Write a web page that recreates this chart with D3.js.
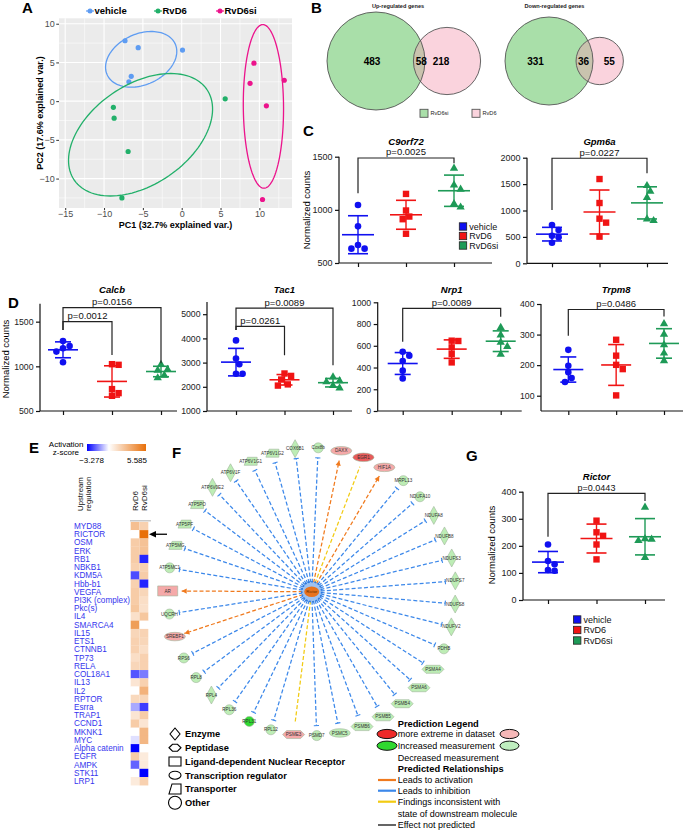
<!DOCTYPE html>
<html><head><meta charset="utf-8">
<script src="https://cdn.jsdelivr.net/npm/d3@7"></script>
<style>body{margin:0;background:#fff}svg{display:block}text{font-family:"Liberation Sans",Arial,Helvetica,sans-serif}</style>
</head><body><svg id="c" width="685" height="830"></svg>
<script>
// ================= DATA =================
const pcaGroups = ["vehicle", "RvD6", "RvD6si"];
const pcaVehicle = [[-7.3, 7.8], [-5.6, 6.9], [0.1, 6.6], [-6.5, 3.2], [-6.8, 2.5]];
const pcaRvD6 = [[5.6, 0.3], [-8.8, -0.8], [-8.7, -2.2], [-6.9, -6.5], [-7.7, -12.5]];
const pcaRvD6si = [[9.3, 4.9], [8.8, 2.3], [13.2, 2.7], [10.9, -0.6], [10.4, -12.7]];
const pcaXTicks = [-15, -10, -5, 0, 5, 10];
const pcaYTicks = [-10, -5, 0, 5, 10];

const vennTitles = ["Up-regulated genes", "Down-regulated genes"];
const vennUp = [483, 58, 218];     // RvD6si only, both, RvD6 only
const vennDown = [331, 36, 55];
const vennLegend = ["RvD6si", "RvD6"];

const groups = ["vehicle", "RvD6", "RvD6si"];
const c9orf72 = [[1045, 845, 670, 635, 635], [1150, 994, 937, 912, 775], [1390, 1234, 1194, 1056, 1025]];
const gpm6a = [[725, 630, 520, 495, 390], [1596, 1142, 845, 770, 505], [1470, 1363, 1243, 839, 807]];
const calcb = [[1284, 1228, 1202, 1165, 1046], [1024, 1017, 745, 700, 670], [1020, 965, 955, 900, 870]];
const tac1 = [[3917, 3167, 2930, 2542, 2542], [2550, 2450, 2300, 2100, 2050], [2400, 2250, 2200, 2050, 1950]];
const nrp1 = [[545, 509, 460, 371, 300], [644, 647, 585, 524, 447], [767, 699, 632, 592, 521]];
const trpm8 = [[250, 198, 177, 158, 145], [283, 231, 201, 187, 101], [335, 301, 266, 239, 214]];
const rictor = [[205, 144, 132, 108, 111], [293, 250, 237, 205, 150], [342, 224, 219, 226, 157]];

const regulators = ["MYD88", "RICTOR", "OSM", "ERK", "RB1", "NBKB1", "KDM5A", "Hbb-b1", "VEGFA", "PI3K (complex)", "Pkc(s)", "IL4", "SMARCA4", "IL15", "ETS1", "CTNNB1", "TP73", "RELA", "COL18A1", "IL13", "IL2", "RPTOR", "Esrra", "TRAP1", "CCND1", "MKNK1", "MYC", "Alpha catenin", "EGFR", "AMPK", "STK11", "LRP1"];
const zRvD6 = [2.5, null, 2.0, 2.0, 2.0, 1.8, -2.3, 1.8, 2.0, 2.0, 2.2, 1.2, 3.8, 1.6, 1.8, 1.8, 1.3, 1.6, -2.2, 1.0, null, 1.5, -1.1, 1.0, 2.0, null, -0.4, -3.278, 2.0, -2.0, null, 0.8];
const zRvD6si = [1.8, 5.585, 2.4, 2.4, -2.8, 1.8, 2.0, -2.8, 1.6, 1.3, 1.2, 2.2, null, 1.7, 1.6, 1.3, 1.8, 1.8, -1.7, 1.8, 3.0, 1.6, -2.5, 2.0, 1.0, 2.8, 2.8, null, 0.8, 0.8, -3.278, 1.8];
const zRange = [-3.278, 5.585];

const netNodes = ["AR", "ATP5MC1", "ATP5MG", "ATP5PF", "ATP5PO", "ATP6V0E2", "ATP6V1F", "ATP6V1G1", "ATP6V1G2", "COX6B1", "Cox8b", "DAXX", "EGR1", "HIF1A", "MRPL13", "NDUFA10", "NDUFA8", "NDUFB8", "NDUFS3", "NDUFS7", "NDUFS8", "NDUFV2", "PDHB", "PSMA4", "PSMA6", "PSMB4", "PSMB5", "PSMB6", "PSMC5", "PSMD7", "PSME3", "RPL12", "RPL31", "RPL36", "RPL4", "RPL8", "RPS6", "SREBF1", "UQCRH"];
const netTypes = ["nuclear", "other", "transporter", "transporter", "transporter", "enzyme", "enzyme", "transporter", "transporter", "enzyme", "other", "tf", "tf", "tf", "other", "other", "enzyme", "enzyme", "enzyme", "enzyme", "enzyme", "enzyme", "other", "peptidase", "peptidase", "peptidase", "peptidase", "peptidase", "tf", "other", "peptidase", "other", "other", "other", "enzyme", "other", "other", "tf", "other"];
const netState = ["up", "down", "down", "down", "down", "down", "down", "down", "down", "down", "down", "up", "upStrong", "up", "down", "down", "down", "down", "down", "down", "down", "down", "down", "down", "down", "down", "down", "down", "down", "down", "up", "down", "downStrong", "down", "down", "down", "down", "up", "down"];
const netRel = ["act", "inh", "inh", "inh", "inh", "inh", "inh", "inh", "inh", "inh", "inh", "act", "inc", "act", "inh", "inh", "inh", "inh", "inh", "inh", "inh", "inh", "inh", "inh", "inh", "inh", "inh", "inh", "inh", "inh", "inc", "inh", "inh", "inh", "inh", "inh", "inh", "act", "inh"];
const netHub = "Rictor";

const shapeLegend = ["Enzyme", "Peptidase", "Ligand-dependent Nuclear Receptor", "Transcription regulator", "Transporter", "Other"];
const shapeLegendTypes = ["enzyme", "peptidase", "nuclear", "tf", "transporter", "other"];
const relLegend = ["Leads to activation", "Leads to inhibition", "Findings inconsistent with", "Effect not predicted"];

// ================= STYLE =================
const FONT = '"Liberation Sans", Arial, Helvetica, sans-serif';
const grpColor = ["#1010F0", "#F01414", "#1E9A57"];
const pcaColor = ["#5E9CF2", "#22B06A", "#EC138C"];
const stateFill = {up: "#F5A9A9", upStrong: "#E85A5A", down: "#BDEDB5", downStrong: "#30DA30"};
const relColor = {act: "#F07A1E", inh: "#3C88EA", inc: "#F2CB12", none: "#111"};

const svg = d3.select("#c");
const defs = svg.append("defs");

function txt(g, x, y, s, o = {}) {
  const t = g.append("text").attr("x", x).attr("y", y).text(s)
    .attr("font-size", o.size || 9).attr("fill", o.fill || "#000")
    .attr("text-anchor", o.anchor || "start");
  if (o.weight) t.attr("font-weight", o.weight);
  if (o.style) t.attr("font-style", o.style);
  if (o.rotate != null) t.attr("transform", `rotate(${o.rotate},${x},${y})`);
  return t;
}
const minus = d => String(d).replace("-", "\u2212");

// panel letters
[["A", 22, 13], ["B", 311, 13], ["C", 303, 136], ["D", 8, 308], ["E", 29, 453], ["F", 172, 458], ["G", 466, 461]]
  .forEach(([l, x, y]) => txt(svg, x, y, l, {size: 15, weight: "bold"}));

// ================= PANEL A =================
(function () {
  const g = svg.append("g");
  const x = d3.scaleLinear().domain([-15.8, 14.2]).range([59, 292]);
  const y = d3.scaleLinear().domain([-13.8, 10.7]).range([208, 18.3]);
  g.append("rect").attr("x", 59).attr("y", y(10.7)).attr("width", 233).attr("height", y(-13.8) - y(10.7)).attr("fill", "#EBEBEB");
  const xMinor = [pcaXTicks[0] - 2.5].concat(pcaXTicks.map(t => t + 2.5)).filter(v => v > x.domain()[0] && v < x.domain()[1]);
  const yMinor = [pcaYTicks[0] - 2.5].concat(pcaYTicks.map(t => t + 2.5)).filter(v => v > y.domain()[0] && v < y.domain()[1]);
  xMinor.forEach(v => g.append("line").attr("x1", x(v)).attr("x2", x(v)).attr("y1", y.range()[0]).attr("y2", y.range()[1]).attr("stroke", "#fff").attr("stroke-width", 0.55));
  yMinor.forEach(v => g.append("line").attr("y1", y(v)).attr("y2", y(v)).attr("x1", 59).attr("x2", 292).attr("stroke", "#fff").attr("stroke-width", 0.55));
  pcaXTicks.forEach(v => g.append("line").attr("x1", x(v)).attr("x2", x(v)).attr("y1", y.range()[0]).attr("y2", y.range()[1]).attr("stroke", "#fff").attr("stroke-width", 1.1));
  pcaYTicks.forEach(v => g.append("line").attr("y1", y(v)).attr("y2", y(v)).attr("x1", 59).attr("x2", 292).attr("stroke", "#fff").attr("stroke-width", 1.1));

  const xa = g.append("g").attr("transform", `translate(0,${y.range()[0]})`)
    .call(d3.axisBottom(x).tickValues(pcaXTicks).tickSize(2.2).tickSizeOuter(0).tickPadding(0.3).tickFormat(minus));
  const ya = g.append("g").attr("transform", `translate(59,0)`)
    .call(d3.axisLeft(y).tickValues(pcaYTicks).tickSize(2.75).tickSizeOuter(0).tickPadding(1.5).tickFormat(minus));
  [xa, ya].forEach(a => {
    a.select(".domain").remove();
    a.attr("font-family", FONT).attr("font-size", 9);
    a.selectAll("line").attr("stroke", "#333");
    a.selectAll("text").attr("fill", "#4D4D4D");
  });

  function ellipse(pts) {
    const mx = d3.mean(pts, d => d[0]), my = d3.mean(pts, d => d[1]), n = pts.length;
    let sxx = 0, syy = 0, sxy = 0;
    pts.forEach(p => { const dx = p[0] - mx, dy = p[1] - my; sxx += dx * dx; syy += dy * dy; sxy += dx * dy; });
    sxx /= n - 1; syy /= n - 1; sxy /= n - 1;
    const tr = sxx + syy, det = sxx * syy - sxy * sxy, disc = Math.sqrt(Math.max(0, tr * tr / 4 - det));
    const l1 = tr / 2 + disc, l2 = tr / 2 - disc;
    const ang = Math.atan2(l1 - sxx, sxy);
    const k = Math.sqrt(-2 * Math.log(1 - 0.68));
    const a = k * Math.sqrt(l1), b = k * Math.sqrt(Math.max(0, l2));
    return d3.range(0, 121).map(i => {
      const t = i / 120 * 2 * Math.PI, u = a * Math.cos(t), v = b * Math.sin(t);
      return [mx + u * Math.cos(ang) - v * Math.sin(ang), my + u * Math.sin(ang) + v * Math.cos(ang)];
    });
  }
  const line = d3.line().x(d => x(d[0])).y(d => y(d[1]));
  [pcaVehicle, pcaRvD6, pcaRvD6si].forEach((pts, i) => {
    g.append("path").attr("d", line(ellipse(pts))).attr("fill", "none").attr("stroke", pcaColor[i]).attr("stroke-width", 1.3);
    pts.forEach(p => g.append("circle").attr("cx", x(p[0])).attr("cy", y(p[1])).attr("r", 2.6).attr("fill", pcaColor[i]));
  });

  txt(g, 175.5, 228, "PC1 (32.7% explained var.)", {size: 9, weight: "bold", anchor: "middle"});
  txt(g, 43, 113, "PC2 (17.6% explained var.)", {size: 9, weight: "bold", anchor: "middle", rotate: -90});

  const lx = [90, 158, 220];
  pcaGroups.forEach((n, i) => {
    g.append("line").attr("x1", lx[i] - 4).attr("x2", lx[i] + 4).attr("y1", 11).attr("y2", 11).attr("stroke", pcaColor[i]).attr("stroke-width", 1.2);
    g.append("circle").attr("cx", lx[i]).attr("cy", 11).attr("r", 2.5).attr("fill", pcaColor[i]);
    txt(g, lx[i] + 4.5, 14.3, n, {size: 9.5, weight: "bold"});
  });
})();

// ================= PANEL B =================
(function () {
  const g = svg.append("g");
  const venns = [
    {vals: vennUp, title: vennTitles[0], cx: 376, dx: 71, R: 49, tx: 398},
    {vals: vennDown, title: vennTitles[1], cx: 549, dx: 50.7, R: 44, tx: 554.5}
  ];
  const cy = 61;
  venns.forEach((v, i) => {
    const big = v.vals[0] + v.vals[1], small = v.vals[2] + v.vals[1];
    const r = d3.scaleSqrt().domain([0, big]).range([0, v.R]);
    const r1 = r(big), r2 = r(small) * (i === 0 ? 0.96 : 1.08);
    const c2 = v.cx + v.dx;
    txt(g, v.tx, 8, v.title, {size: 5.6, weight: "bold", anchor: "middle", fill: "#222"});
    g.append("circle").attr("cx", v.cx).attr("cy", cy).attr("r", r1).attr("fill", "#A9DFA9");
    g.append("circle").attr("cx", c2).attr("cy", cy).attr("r", r2).attr("fill", "#FAD3DD");
    defs.append("clipPath").attr("id", "vc" + i).append("circle").attr("cx", v.cx).attr("cy", cy).attr("r", r1);
    g.append("circle").attr("cx", c2).attr("cy", cy).attr("r", r2).attr("fill", "#C9C3AE").attr("clip-path", `url(#vc${i})`);
    g.append("circle").attr("cx", v.cx).attr("cy", cy).attr("r", r1).attr("fill", "none").attr("stroke", "#555").attr("stroke-width", 0.9);
    g.append("circle").attr("cx", c2).attr("cy", cy).attr("r", r2).attr("fill", "none").attr("stroke", "#555").attr("stroke-width", 0.9);
    const lensX = ((v.cx + r1) + (c2 - r2)) / 2;
    txt(g, v.cx - r1 * 0.08 - (i ? 10 : 0), cy + 3.5, v.vals[0], {size: 10, weight: "bold", anchor: "middle"});
    txt(g, lensX + (i ? -1 : 2), cy + 3.5, v.vals[1], {size: 10, weight: "bold", anchor: "middle"});
    txt(g, c2 - (i ? -9.5 : 6), cy + 3.5, v.vals[2], {size: 10, weight: "bold", anchor: "middle"});
  });
  const lg = [[420, "#A9DFA9"], [472, "#FAD3DD"]];
  vennLegend.forEach((n, i) => {
    g.append("rect").attr("x", lg[i][0]).attr("y", 109.3).attr("width", 8).attr("height", 8).attr("fill", lg[i][1]).attr("stroke", "#555").attr("stroke-width", 0.9);
    txt(g, lg[i][0] + 10.5, 115.3, n, {size: 5.6, fill: "#222"});
  });
})();

// ================= DOT PLOTS =================
function dodge(vals, y, r) {
  const order = vals.map((v, i) => i).sort((a, b) => vals[b] - vals[a]);
  const placed = [], off = new Array(vals.length).fill(0);
  const d = 2 * r;
  order.forEach(i => {
    const py = y(vals[i]);
    const cand = [0, d / 2, -d / 2, d, -d, 1.5 * d, -1.5 * d];
    let best = 0;
    for (const c of cand) {
      if (placed.every(p => Math.hypot(p[0] - c, p[1] - py) >= d * 0.95)) { best = c; break; }
    }
    off[i] = best; placed.push([best, py]);
  });
  return off;
}

function dotPlot(c) {
  const g = svg.append("g");
  const y = d3.scaleLinear().domain(c.domain).range([c.yBottom, c.yTop]);
  const x = d3.scalePoint().domain(groups).range(c.gx);
  const ya = g.append("g").attr("transform", `translate(${c.x0},0)`)
    .call(d3.axisLeft(y).tickValues(c.ticks).tickSize(4).tickSizeOuter(0).tickPadding(2.5).tickFormat(d => String(d)));
  const xa = g.append("g").attr("transform", `translate(0,${c.yBottom})`)
    .call(d3.axisBottom(x).tickSize(4).tickSizeOuter(0).tickFormat(""));
  xa.select(".domain").attr("d", `M${c.x0},0H${c.x1}`);
  ya.select(".domain").attr("d", `M0,${c.yBottom}V${c.yTop}`);
  [xa, ya].forEach(a => {
    a.attr("font-family", FONT).attr("font-size", c.tick);
    a.selectAll("line,path").attr("stroke", "#111").attr("stroke-width", 1.2);
    a.selectAll("text").attr("fill", "#222");
  });

  c.data.forEach((vals, gi) => {
    const cx = x(groups[gi]), col = grpColor[gi];
    const m = d3.mean(vals), sd = d3.deviation(vals);
    const offs = dodge(vals, y, 3.3);
    vals.forEach((v, i) => {
      const px = cx + offs[i], py = y(v);
      if (gi === 0) g.append("circle").attr("cx", px).attr("cy", py).attr("r", 3.3).attr("fill", col);
      else if (gi === 1) g.append("rect").attr("x", px - 3.2).attr("y", py - 3.2).attr("width", 6.4).attr("height", 6.4).attr("fill", col);
      else g.append("path").attr("d", d3.symbol(d3.symbolTriangle, 30)()).attr("transform", `translate(${px},${py})`).attr("fill", col);
    });
    g.append("line").attr("x1", cx - c.mh).attr("x2", cx + c.mh).attr("y1", y(m)).attr("y2", y(m)).attr("stroke", col).attr("stroke-width", 1.6);
    g.append("line").attr("x1", cx).attr("x2", cx).attr("y1", y(m - sd)).attr("y2", y(m + sd)).attr("stroke", col).attr("stroke-width", 1.4);
    [m - sd, m + sd].forEach(v => g.append("line").attr("x1", cx - c.ch).attr("x2", cx + c.ch).attr("y1", y(v)).attr("y2", y(v)).attr("stroke", col).attr("stroke-width", 1.6));
  });

  c.brackets.forEach(b => {
    const xa0 = x(groups[b.a]), xb0 = x(groups[b.b]);
    g.append("path").attr("d", `M${xa0},${y(b.legA)}V${y(b.top)}H${xb0}V${y(b.legB)}`)
      .attr("fill", "none").attr("stroke", "#222").attr("stroke-width", 1.2);
    txt(g, (xa0 + xb0) / 2, y(b.top) - 2.6, b.label, {size: c.psize, anchor: "middle", fill: "#111"});
  });
  txt(g, (c.gx[0] + c.gx[1]) / 2, c.titleY, c.title, {size: c.tsize || c.psize, anchor: "middle", weight: "bold", style: "italic"});
}

const plots = [
  {data: c9orf72, title: "C9orf72", x0: 339, x1: 492, yTop: 156.7, yBottom: 263, domain: [500, 1500], ticks: [500, 1000, 1500], gx: [358, 454], titleY: 144.5, tick: 9, psize: 9.5, mh: 16, ch: 10,
    brackets: [{a: 0, b: 2, top: 1488, legA: 1157, legB: 1438, label: "p=0.0025"}]},
  {data: gpm6a, title: "Gpm6a", x0: 527, x1: 668, yTop: 157.7, yBottom: 263.3, domain: [0, 2000], ticks: [0, 500, 1000, 1500, 2000], gx: [552, 647], titleY: 144.5, tick: 9, psize: 9.5, mh: 16, ch: 10,
    brackets: [{a: 0, b: 2, top: 1990, legA: 1010, legB: 1705, label: "p=0.0227"}]},
  {data: calcb, title: "Calcb", x0: 40, x1: 177, yTop: 303.8, yBottom: 411, domain: [500, 1700], ticks: [500, 1000, 1500], gx: [63, 161], titleY: 292.5, tick: 8.7, psize: 9.5, mh: 15, ch: 8,
    brackets: [{a: 0, b: 2, top: 1657, legA: 1407, legB: 1035, label: "p=0.0156"}, {a: 0, b: 1, top: 1500, legA: 1407, legB: 1127, label: "p=0.0012"}]},
  {data: tac1, title: "Tac1", x0: 207, x1: 352, yTop: 302.1, yBottom: 411, domain: [1000, 5500], ticks: [1000, 2000, 3000, 4000, 5000], gx: [236, 333], titleY: 292.5, tick: 8.7, psize: 9.5, mh: 15, ch: 8,
    brackets: [{a: 0, b: 2, top: 5250, legA: 4346, legB: 2888, label: "p=0.0089"}, {a: 0, b: 1, top: 4500, legA: 4346, legB: 3304, label: "p=0.0261"}]},
  {data: nrp1, title: "Nrp1", x0: 377.7, x1: 521.7, yTop: 302.3, yBottom: 411, domain: [0, 1000], ticks: [0, 200, 400, 600, 800, 1000], gx: [402.7, 500.7], titleY: 292.5, tick: 8.7, psize: 9.5, mh: 15, ch: 8,
    brackets: [{a: 0, b: 2, top: 945, legA: 637, legB: 867, label: "p=0.0089"}]},
  {data: trpm8, title: "Trpm8", x0: 541, x1: 683, yTop: 304, yBottom: 411, domain: [50, 400], ticks: [100, 200, 300, 400], gx: [568.3, 664], titleY: 292.5, tick: 8.7, psize: 9.5, mh: 15, ch: 8,
    brackets: [{a: 0, b: 2, top: 382, legA: 296, legB: 359, label: "p=0.0486"}]},
  {data: rictor, title: "Rictor", x0: 523, x1: 665, yTop: 491.7, yBottom: 600, domain: [0, 400], ticks: [0, 100, 200, 300, 400], gx: [548, 645], titleY: 480, tick: 9, psize: 9, tsize: 9.5, mh: 16, ch: 10,
    brackets: [{a: 0, b: 2, top: 394, legA: 234, legB: 366, label: "p=0.0443"}]}
];
plots.forEach(dotPlot);

txt(svg, 310, 210, "Normalized counts", {size: 9.5, anchor: "middle", rotate: -90});
txt(svg, 9, 359, "Normalized counts", {size: 9.5, anchor: "middle", rotate: -90});
txt(svg, 495, 545, "Normalized counts", {size: 9.5, anchor: "middle", rotate: -90});

function grpLegend(x, ys) {
  groups.forEach((n, i) => {
    svg.append("rect").attr("x", x).attr("y", ys[i] - 3.7).attr("width", 7.4).attr("height", 7.4).attr("fill", grpColor[i]).attr("stroke", "#222").attr("stroke-width", 0.8);
    txt(svg, x + 10, ys[i] + 3.3, n, {size: 9, fill: "#111"});
  });
}
grpLegend(459.3, [226.5, 236, 245.5]);
grpLegend(573.5, [619.5, 630, 640.5]);

// ================= PANEL E =================
(function () {
  const g = svg.append("g");
  const col = d3.scaleLinear().domain([zRange[0], 0, zRange[1]]).range(["#0000FF", "#FFFFFF", "#E8700A"]);
  const grad = defs.append("linearGradient").attr("id", "zg");
  [zRange[0], 0, zRange[1]].forEach(v => grad.append("stop").attr("offset", (v - zRange[0]) / (zRange[1] - zRange[0])).attr("stop-color", col(v)));
  g.append("rect").attr("x", 87).attr("y", 444).attr("width", 59).attr("height", 7).attr("fill", "url(#zg)");
  txt(g, 83.5, 447, "Activation", {size: 8, anchor: "end"});
  txt(g, 79, 455, "z-score", {size: 8, anchor: "end"});
  txt(g, 91.5, 462.5, minus(zRange[0]), {size: 8, anchor: "middle"});
  txt(g, 137, 462.5, zRange[1], {size: 8, anchor: "middle"});

  txt(g, 82.5, 511, "Upstream", {size: 7.8, anchor: "start", rotate: -90, fill: "#111"});
  txt(g, 90.5, 511, "regulation", {size: 7.8, anchor: "start", rotate: -90, fill: "#111"});
  txt(g, 138.3, 511, "RvD6", {size: 8, anchor: "start", rotate: -90, fill: "#111"});
  txt(g, 147, 511, "RvD6si", {size: 8, anchor: "start", rotate: -90, fill: "#111"});

  const y = d3.scaleBand().domain(regulators).range([521.9, 521.9 + 8.23 * regulators.length]);
  const x = d3.scaleBand().domain(["RvD6", "RvD6si"]).range([130.7, 148.3]);
  g.append("line").attr("x1", 130).attr("x2", 151).attr("y1", 520.8).attr("y2", 520.8).attr("stroke", "#BBB").attr("stroke-width", 1.2);
  regulators.forEach((r, i) => {
    [zRvD6[i], zRvD6si[i]].forEach((z, j) => {
      g.append("rect").attr("x", x.domain().map(x)[j]).attr("y", y(r)).attr("width", x.bandwidth()).attr("height", y.bandwidth() + 0.2)
        .attr("fill", z == null ? "#FFFFFF" : col(z));
    });
    txt(g, 74, y(r) + y.bandwidth() / 2 + 2.9, r, {size: 8.2, fill: "#3535EE"});
  });
  const ry = y("RICTOR") + y.bandwidth() / 2;
  g.append("line").attr("x1", 167).attr("x2", 154).attr("y1", ry).attr("y2", ry).attr("stroke", "#000").attr("stroke-width", 1.3);
  g.append("path").attr("d", `M149,${ry}L156,${ry - 3.3}L156,${ry + 3.3}Z`).attr("fill", "#000");
})();

// ================= PANEL F =================
function shapePath(type, w, h) {
  const a = w / 2, b = h / 2;
  switch (type) {
    case "enzyme": return `M0,${-b}L${a},0L0,${b}L${-a},0Z`;
    case "peptidase": return `M${-a},0L${-a + b},${-b}L${a - b},${-b}L${a},0L${a - b},${b}L${-a + b},${b}Z`;
    case "nuclear": return `M${-a},${-b}H${a}V${b}H${-a}Z`;
    case "tf": return `M${-a},0A${a},${b} 0 1,0 ${a},0A${a},${b} 0 1,0 ${-a},0Z`;
    case "transporter": return `M${-a + w * 0.25},${-b}H${a}V${b}H${-a}Z`;
    default: return `M${-a},0A${a},${a} 0 1,0 ${a},0A${a},${a} 0 1,0 ${-a},0Z`;
  }
}
const nodeSize = {enzyme: [10, 18], peptidase: [22, 8], nuclear: [20, 10], tf: [21, 8.5], transporter: [13, 8], other: [10, 10]};

(function () {
  const g = svg.append("g");
  const cx = 311.7, cy = 591.7, R = 144;
  const ang = d3.scaleLinear().domain([0, netNodes.length]).range([270.3, 270.3 + 360]);
  const pos = netNodes.map((n, i) => {
    const t = ang(i) * Math.PI / 180;
    return {t, x: cx + R * Math.sin(t), y: cy - R * Math.cos(t)};
  });
  netNodes.forEach((n, i) => {
    const t = pos[i].t, rel = netRel[i];
    const endR = R - (netTypes[i] === "nuclear" ? 14 : netTypes[i] === "peptidase" ? 12 : 10);
    const sx = Math.sin(t), sy = -Math.cos(t);
    const x1 = cx + 9 * sx, y1 = cy + 9 * sy, x2 = cx + endR * sx, y2 = cy + endR * sy;
    g.append("line").attr("x1", x1).attr("y1", y1).attr("x2", x2).attr("y2", y2)
      .attr("stroke", relColor[rel]).attr("stroke-width", 1.25).attr("stroke-dasharray", "4,2.2");
    if (rel === "inh") {
      g.append("line").attr("x1", x2 - 2.6 * sy).attr("y1", y2 + 2.6 * sx).attr("x2", x2 + 2.6 * sy).attr("y2", y2 - 2.6 * sx)
        .attr("stroke", relColor[rel]).attr("stroke-width", 1.1);
    } else if (rel === "act") {
      const bx = x2 - 5 * sx, by = y2 - 5 * sy;
      g.append("path").attr("d", `M${x2},${y2}L${bx - 2.6 * sy},${by + 2.6 * sx}L${bx + 2.6 * sy},${by - 2.6 * sx}Z`).attr("fill", relColor[rel]);
    }
  });
  g.append("circle").attr("cx", cx).attr("cy", cy).attr("r", 10).attr("fill", "#9DC2F2").attr("stroke", "#2F7BE0").attr("stroke-width", 1.6).attr("stroke-dasharray", "2,1.3");
  g.append("ellipse").attr("cx", cx).attr("cy", cy).attr("rx", 7.5).attr("ry", 5.2).attr("fill", "#E8731E");
  txt(g, cx, cy + 1.5, netHub, {size: 4.2, anchor: "middle", fill: "#5a2a00"});
  netNodes.forEach((n, i) => {
    const [w, h] = nodeSize[netTypes[i]];
    g.append("path").attr("d", shapePath(netTypes[i], w, h)).attr("transform", `translate(${pos[i].x},${pos[i].y})`)
      .attr("fill", stateFill[netState[i]]).attr("stroke", "#9FB59A").attr("stroke-width", 0.6);
    txt(g, pos[i].x, pos[i].y + 1.6, n, {size: 4.6, anchor: "middle", fill: "#333"});
  });

  const ly = d3.scalePoint().domain(shapeLegend).range([734, 802.7]);
  const legSize = {enzyme: [10, 12], peptidase: [12, 7], nuclear: [12, 9], tf: [12, 8], transporter: [12, 10], other: [13, 13]};
  shapeLegend.forEach((s, i) => {
    const ty = shapeLegendTypes[i], [w, h] = legSize[ty];
    g.append("path").attr("d", shapePath(ty, w, h)).attr("transform", `translate(175,${ly(s)})`).attr("fill", "#fff").attr("stroke", "#000").attr("stroke-width", 1.1);
    txt(g, 185, ly(s) + 3.4, s, {size: 9.3, weight: "bold"});
  });

  txt(g, 397.7, 726.8, "Prediction Legend", {size: 9.3, weight: "bold"});
  g.append("ellipse").attr("cx", 387).attr("cy", 734).attr("rx", 10).attr("ry", 4.6).attr("fill", "#EE2A2A").attr("stroke", "#111");
  g.append("ellipse").attr("cx", 509.5).attr("cy", 734).attr("rx", 9.5).attr("ry", 4.6).attr("fill", "#F6B8B8").attr("stroke", "#111");
  txt(g, 397.7, 737.3, "more extreme in dataset", {size: 9});
  g.append("ellipse").attr("cx", 387).attr("cy", 745.7).attr("rx", 10).attr("ry", 4.6).attr("fill", "#2FD82F").attr("stroke", "#111");
  g.append("ellipse").attr("cx", 509.5).attr("cy", 745.7).attr("rx", 9.5).attr("ry", 4.6).attr("fill", "#BFEEBF").attr("stroke", "#111");
  txt(g, 397.7, 749, "Increased measurement", {size: 9});
  txt(g, 397.7, 760.5, "Decreased measurement", {size: 9});
  txt(g, 397.7, 771.6, "Predicted Relationships", {size: 9.3, weight: "bold"});
  const rl = [["act", 780, relLegend[0]], ["inh", 790.7, relLegend[1]], ["inc", 801.7, relLegend[2]], ["none", 825, relLegend[3]]];
  rl.forEach(([k, yy, s]) => {
    g.append("line").attr("x1", 378).attr("x2", 396).attr("y1", yy).attr("y2", yy).attr("stroke", relColor[k]).attr("stroke-width", k === "none" ? 1.3 : 2.2);
    txt(g, 397.7, yy + 3.2, s, {size: 9});
  });
  txt(g, 397.7, 816.5, "state of downstream molecule", {size: 9});
})();
</script></body></html>
